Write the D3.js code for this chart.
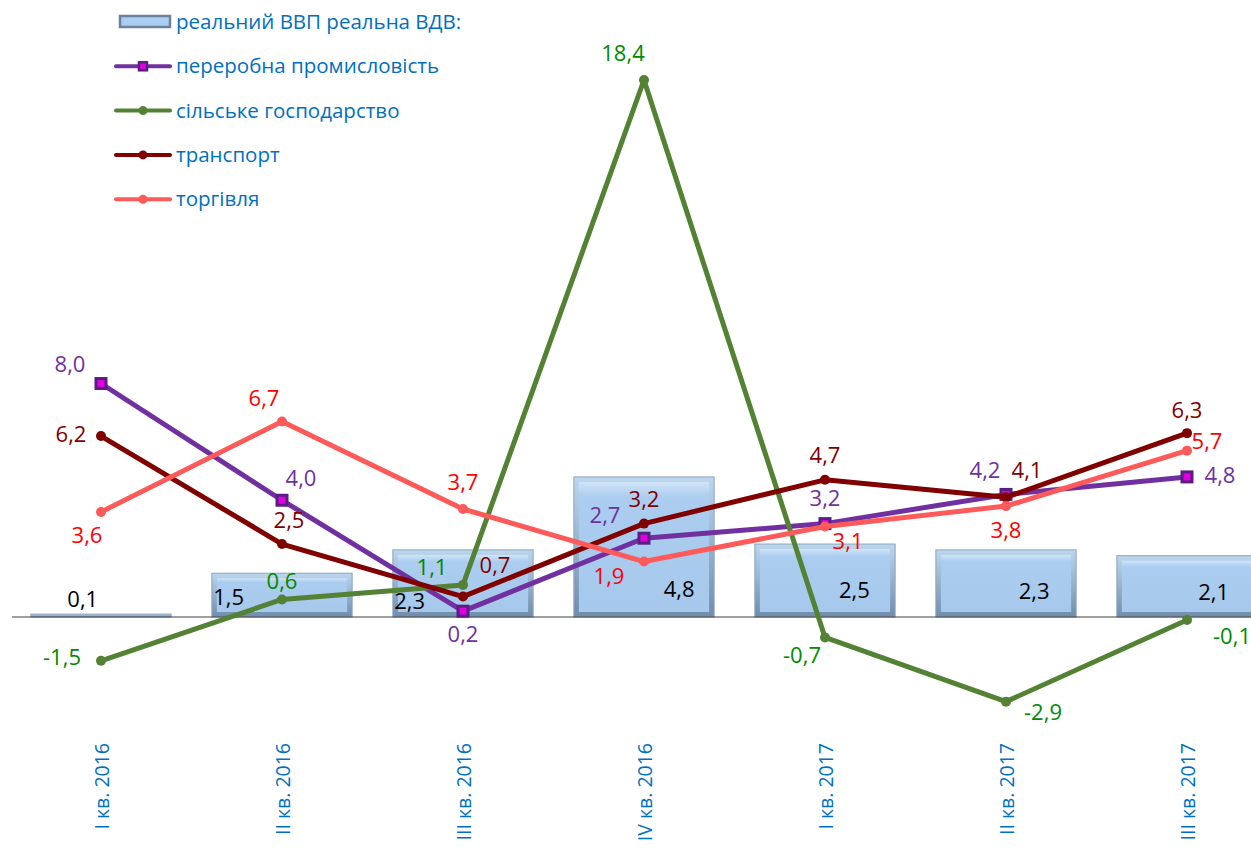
<!DOCTYPE html>
<html>
<head>
<meta charset="utf-8">
<script src="https://cdn.jsdelivr.net/npm/d3@7"></script>
<style>
  body { margin: 0; background: #fff; }
  svg { font-family: "Open Sans", "Noto Sans", sans-serif; }
</style>
</head>
<body>
<svg id="chart"></svg>
<script>
const categories = ["I кв. 2016", "II кв. 2016", "III кв. 2016", "IV кв. 2016", "I кв. 2017", "II кв. 2017", "III кв. 2017"];
const gdp = [0.1, 1.5, 2.3, 4.8, 2.5, 2.3, 2.1];
const manufacturing = [8.0, 4.0, 0.2, 2.7, 3.2, 4.2, 4.8];
const agriculture = [-1.5, 0.6, 1.1, 18.4, -0.7, -2.9, -0.1];
const transport = [6.2, 2.5, 0.7, 3.2, 4.7, 4.1, 6.3];
const trade = [3.6, 6.7, 3.7, 1.9, 3.1, 3.8, 5.7];

// label offsets [dx, dy] from each point
const series = [
  { name: "переробна промисловість", values: manufacturing, color: "#7030a0", label: "#7030a0", marker: "square",
    off: [[-31, -12], [19, -14], [0, 31], [-39, -15], [0, -18], [-21, -16], [33, 6]] },
  { name: "сільське господарство", values: agriculture, color: "#548235", label: "#008a00", marker: "circle",
    off: [[-39, 4], [0, -10], [-31, -10], [-21, -19], [-23, 26], [37, 18], [45, 24]] },
  { name: "транспорт", values: transport, color: "#800000", label: "#800000", marker: "circle",
    off: [[-30, 6], [7, -16], [32, -24], [0, -17], [0, -17], [21, -19], [0, -15]] },
  { name: "торгівля", values: trade, color: "#ff5a5a", label: "#ff0000", marker: "circle",
    off: [[-14, 31], [-18, -15], [0, -19], [-35, 22], [23, 22], [0, 32], [20, -2]] }
];
// bar label: fraction across bar, baseline
const barLabelX = [0.37, 0.12, 0.12, 0.75, 0.71, 0.70, 0.69];
const barLabelY = [607, 605, 609, 597, 598, 599, 600];

const width = 1251, height = 848;
const svg = d3.select("#chart").attr("width", width).attr("height", height);

const x = d3.scaleBand()
  .domain(categories)
  .range([10.5, 1277.5])
  .paddingInner(0.225)
  .paddingOuter(0.1125);

const y = d3.scaleLinear()
  .domain([0, 18.4])
  .range([617, 80]);

const fmt = v => d3.format(".1f")(v).replace(".", ",").replace("\u2212", "-");
const cx = d => x(d) + x.bandwidth() / 2;

const defs = svg.append("defs");
const grad = defs.append("linearGradient").attr("id", "barFill")
  .attr("x1", 0).attr("y1", 0).attr("x2", 0).attr("y2", 1);
grad.append("stop").attr("offset", "0%").attr("stop-color", "#cfe4f8");
grad.append("stop").attr("offset", "12%").attr("stop-color", "#abcdef");
grad.append("stop").attr("offset", "100%").attr("stop-color", "#a5c8ec");

const edge = defs.append("linearGradient").attr("id", "barEdge")
  .attr("x1", 0).attr("y1", 0).attr("x2", 0).attr("y2", 1);
edge.append("stop").attr("offset", "0%").attr("stop-color", "#bcd6ee");
edge.append("stop").attr("offset", "100%").attr("stop-color", "#6f8dab");

// bars
const bars = svg.append("g").selectAll("g.bar")
  .data(gdp)
  .enter().append("g").attr("class", "bar");

bars.append("rect")
  .attr("x", (d, i) => x(categories[i]))
  .attr("y", d => y(d))
  .attr("width", x.bandwidth())
  .attr("height", d => y(0) - y(d))
  .attr("fill", "url(#barEdge)")
  .attr("stroke", "#8aa4be")
  .attr("stroke-width", 1);

bars.append("rect")
  .attr("x", (d, i) => x(categories[i]) + 5)
  .attr("y", d => y(d) + 5)
  .attr("width", x.bandwidth() - 10)
  .attr("height", d => Math.max(0, y(0) - y(d) - 10))
  .attr("fill", "url(#barFill)");

// zero line
svg.append("line")
  .attr("x1", 12).attr("x2", width)
  .attr("y1", y(0)).attr("y2", y(0))
  .attr("stroke", "#404040").attr("stroke-width", 1);

// bar labels
svg.append("g").selectAll("text")
  .data(gdp)
  .enter().append("text")
  .attr("x", (d, i) => x(categories[i]) + x.bandwidth() * barLabelX[i])
  .attr("y", (d, i) => barLabelY[i])
  .attr("text-anchor", "middle")
  .attr("font-size", 22)
  .attr("fill", "#000")
  .text(fmt);

// lines
const line = d3.line()
  .x((d, i) => cx(categories[i]))
  .y(d => y(d));

series.forEach(s => {
  const g = svg.append("g");
  g.append("path")
    .datum(s.values)
    .attr("d", line)
    .attr("fill", "none")
    .attr("stroke", s.color)
    .attr("stroke-width", 5)
    .attr("stroke-linejoin", "round");

  if (s.marker === "square") {
    g.selectAll("rect")
      .data(s.values)
      .enter().append("rect")
      .attr("x", (d, i) => cx(categories[i]) - 5)
      .attr("y", d => y(d) - 5)
      .attr("width", 10).attr("height", 10)
      .attr("fill", "#e000e0")
      .attr("stroke", "#5a1e82")
      .attr("stroke-width", 3);
  } else {
    g.selectAll("circle")
      .data(s.values)
      .enter().append("circle")
      .attr("cx", (d, i) => cx(categories[i]))
      .attr("cy", d => y(d))
      .attr("r", 5)
      .attr("fill", s.color);
  }
});

series.forEach(s => {
  svg.append("g").selectAll("text")
    .data(s.values)
    .enter().append("text")
    .attr("x", (d, i) => cx(categories[i]) + s.off[i][0])
    .attr("y", (d, i) => y(d) + s.off[i][1])
    .attr("text-anchor", "middle")
    .attr("font-size", 22)
    .attr("fill", s.label)
    .text(fmt);
});

// x labels
svg.append("g").selectAll("text")
  .data(categories)
  .enter().append("text")
  .attr("transform", d => "translate(" + (cx(d) + 8) + ",743) rotate(-90)")
  .attr("text-anchor", "end")
  .attr("font-size", 19.5)
  .attr("fill", "#0070c0")
  .text(d => d);

// legend
const legend = svg.append("g");
const legendItems = [{ name: "реальний ВВП реальна ВДВ:", bar: true }].concat(series);
legendItems.forEach((s, i) => {
  const ly = 22 + i * 44.3;
  const item = legend.append("g");
  if (s.bar) {
    item.append("rect")
      .attr("x", 120).attr("y", ly - 6)
      .attr("width", 50).attr("height", 11)
      .attr("fill", "#aacdf2")
      .attr("stroke", "#6d8399").attr("stroke-width", 2.5);
  } else {
    item.append("line")
      .attr("x1", 116).attr("x2", 170)
      .attr("y1", ly).attr("y2", ly)
      .attr("stroke", s.color).attr("stroke-width", 4)
      .attr("stroke-linecap", "round");
    if (s.marker === "square") {
      item.append("rect")
        .attr("x", 139).attr("y", ly - 4)
        .attr("width", 8).attr("height", 8)
        .attr("fill", "#e000e0")
        .attr("stroke", "#5a1e82").attr("stroke-width", 2.5);
    } else {
      item.append("circle")
        .attr("cx", 143).attr("cy", ly).attr("r", 4.5)
        .attr("fill", s.color);
    }
  }
  item.append("text")
    .attr("x", 176).attr("y", ly + 7)
    .attr("font-size", 20.5)
    .attr("fill", "#0070c0")
    .text(s.name);
});
</script>
</body>
</html>
